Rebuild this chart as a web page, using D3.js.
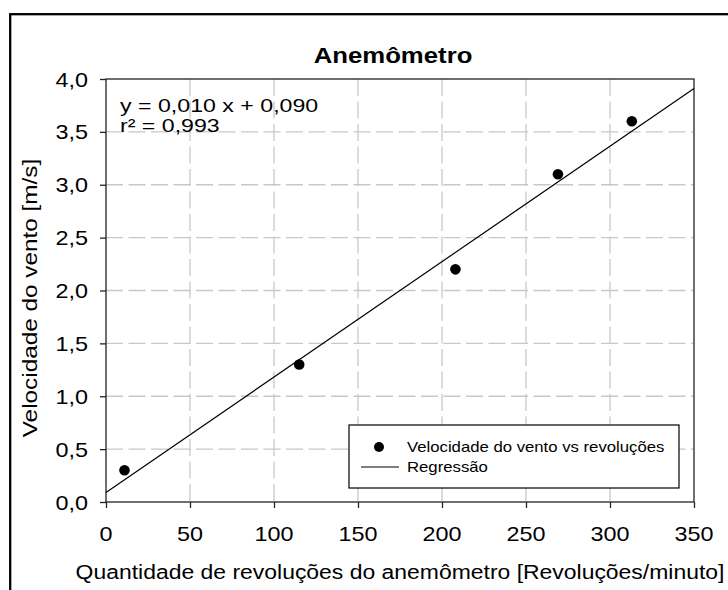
<!DOCTYPE html>
<html lang="pt">
<head>
    <meta charset="UTF-8">
    <title>Anemômetro</title>
    <script src="https://d3js.org/d3.v7.min.js"></script>
    <style>
        body { margin: 0; background: #fff; }
        svg text { font-family: "Liberation Sans", Arial, sans-serif; fill: #000; }
        .grid line { stroke: #c8c8c8; stroke-width: 1.3px; stroke-dasharray: 17, 5.5; }
        .frame { fill: none; stroke: #222; stroke-width: 1.3px; }
    </style>
</head>
<body>
    <div id="chart"></div>
    <script>
        // dados
        var revolucoes = [11, 115, 208, 269, 313];
        var velocidade = [0.3, 1.3, 2.2, 3.1, 3.6];
        var regressaoX = [0, 350];
        var regressaoY = [0.09, 3.91];
        var xTicks = [0, 50, 100, 150, 200, 250, 300, 350];
        var yTicks = [0, 0.5, 1.0, 1.5, 2.0, 2.5, 3.0, 3.5, 4.0];
        var titulo = "Anemômetro";
        var tituloX = "Quantidade de revoluções do anemômetro [Revoluções/minuto]";
        var tituloY = "Velocidade do vento [m/s]";
        var equacao = ["y = 0,010 x + 0,090", "r² = 0,993"];
        var legendaNomes = ["Velocidade do vento vs revoluções", "Regressão"];

        var W = 728, H = 590;
        var margin = { left: 106, right: 34, top: 79, bottom: 88 },
            width = W - margin.left - margin.right,
            height = H - margin.top - margin.bottom;
        var SX = 1.17; // texto um pouco esticado na horizontal

        var ptBR = d3.formatLocale({ decimal: ",", thousands: ".", grouping: [3], currency: ["R$", ""] });

        var svg = d3.select("#chart").append("svg")
            .attr("width", W)
            .attr("height", H);

        // moldura externa
        svg.append("rect")
            .attr("x", 10.2).attr("y", 14.2)
            .attr("width", 800).attr("height", 700)
            .style("fill", "none").style("stroke", "#000").style("stroke-width", 2.3);

        var g = svg.append("g")
            .attr("transform", "translate(" + margin.left + "," + margin.top + ")");

        var x = d3.scaleLinear().domain([0, 350]).range([0, width]);
        var y = d3.scaleLinear().domain([0, 4]).range([height, 0]);

        function label(sel, px, py, txt, size, anchor, rot, sx) {
            var t = sel.append("text")
                .attr("transform", "translate(" + px + "," + py + ")" + (rot ? " rotate(" + rot + ")" : "") + " scale(" + (sx || SX) + ",1)")
                .style("font-size", size + "px")
                .style("text-anchor", anchor || "start")
                .text(txt);
            return t;
        }

        // grade
        var grid = g.append("g").attr("class", "grid");
        grid.selectAll(".vx").data(xTicks.slice(1, -1)).enter().append("line")
            .attr("x1", function (d) { return x(d); }).attr("x2", function (d) { return x(d); })
            .attr("y1", 0).attr("y2", height);
        grid.selectAll(".hy").data(yTicks.slice(1, -1)).enter().append("line")
            .attr("x1", 0).attr("x2", width)
            .attr("y1", function (d) { return y(d); }).attr("y2", function (d) { return y(d); });

        // eixos
        var xAxis = g.append("g")
            .attr("transform", "translate(0," + height + ")")
            .call(d3.axisBottom(x).tickValues(xTicks).tickSize(6).tickFormat(""));
        var yAxis = g.append("g")
            .call(d3.axisLeft(y).tickValues(yTicks).tickSize(6).tickFormat(""));
        [xAxis, yAxis].forEach(function (a) {
            a.select(".domain").remove();
            a.selectAll("line").style("stroke", "#222").style("stroke-width", 1.3);
        });

        g.append("rect").attr("class", "frame")
            .attr("x", 0).attr("y", 0).attr("width", width).attr("height", height);

        xTicks.forEach(function (d) {
            label(g, x(d), height + 39, ptBR.format("d")(d), 20, "middle");
        });
        yTicks.forEach(function (d) {
            label(g, -18, y(d) + 7.5, ptBR.format(".1f")(d), 20, "end");
        });

        // regressão
        var linha = d3.line()
            .x(function (d) { return x(d[0]); })
            .y(function (d) { return y(d[1]); });
        g.append("path")
            .datum(d3.zip(regressaoX, regressaoY))
            .attr("d", linha)
            .style("fill", "none").style("stroke", "#000").style("stroke-width", 1.2);

        // pontos
        g.selectAll(".pt").data(d3.zip(revolucoes, velocidade)).enter().append("circle")
            .attr("cx", function (d) { return x(d[0]); })
            .attr("cy", function (d) { return y(d[1]); })
            .attr("r", 5.3)
            .style("fill", "#000");

        // equação
        label(g, 14, 33, equacao[0], 18.6, "start", 0, 1.245);
        label(g, 14, 52.5, equacao[1], 18.6, "start", 0, 1.245);

        // títulos
        label(svg, 393, 63, titulo, 22, "middle").style("font-weight", "bold");
        label(svg, 400, 579, tituloX, 19.6, "middle");
        label(svg, 37, 298, tituloY, 20.8, "middle", -90);

        // legenda
        var leg = svg.append("g").attr("transform", "translate(349,425)");
        leg.append("rect")
            .attr("width", 330).attr("height", 63)
            .style("fill", "#fff").style("stroke", "#000").style("stroke-width", 1.2);
        leg.append("circle").attr("cx", 30).attr("cy", 22).attr("r", 5).style("fill", "#000");
        leg.append("line").attr("x1", 12).attr("x2", 50).attr("y1", 42).attr("y2", 42)
            .style("stroke", "#000").style("stroke-width", 1.2);
        label(leg, 58, 26.7, legendaNomes[0], 14.3, "start");
        label(leg, 58, 47.3, legendaNomes[1], 14.3, "start");
    </script>
</body>
</html>
